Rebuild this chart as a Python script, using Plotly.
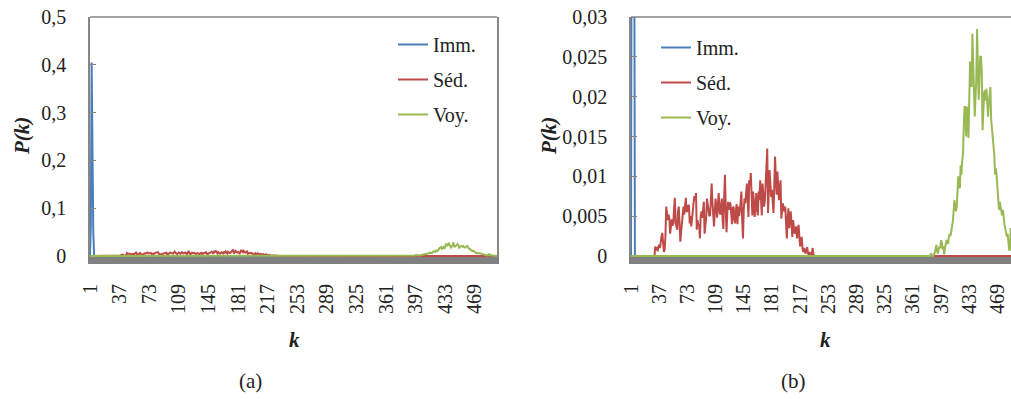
import plotly.graph_objects as go
from plotly.subplots import make_subplots

K_MAX = 496
k = list(range(1, K_MAX + 1))

# P(k) values; every k not listed is 0
imm_start = 1
imm_vals = [0.0, 0.06, 0.405, 0.1, 0.05]

sed_start = 32
sed_vals = [
    0.0012, 0.0008, 0.0011, 0.0006, 0.0012, 0.0014, 0.0010, 0.0020, 0.0025, 0.0029,
    0.0012, 0.0005, 0.0008, 0.0025, 0.0062, 0.0048, 0.0045, 0.0052, 0.0047, 0.0028,
    0.0045, 0.0046, 0.0038, 0.0041, 0.0060, 0.0073, 0.0041, 0.0035, 0.0033, 0.0055,
    0.0062, 0.0040, 0.0018, 0.0030, 0.0045, 0.0055, 0.0062, 0.0052, 0.0060, 0.0073,
    0.0055, 0.0057, 0.0063, 0.0064, 0.0041, 0.0050, 0.0037, 0.0052, 0.0060, 0.0068,
    0.0075, 0.0070, 0.0079, 0.0033, 0.0045, 0.0038, 0.0040, 0.0022, 0.0050, 0.0056,
    0.0048, 0.0060, 0.0068, 0.0028, 0.0035, 0.0048, 0.0072, 0.0065, 0.0057, 0.0050,
    0.0051, 0.0070, 0.0091, 0.0068, 0.0052, 0.0037, 0.0055, 0.0072, 0.0060, 0.0048,
    0.0065, 0.0079, 0.0056, 0.0052, 0.0064, 0.0072, 0.0045, 0.0034, 0.0075, 0.0102,
    0.0060, 0.0030, 0.0055, 0.0068, 0.0058, 0.0067, 0.0066, 0.0050, 0.0040, 0.0060,
    0.0062, 0.0045, 0.0041, 0.0058, 0.0065, 0.0040, 0.0062, 0.0050, 0.0056, 0.0068,
    0.0081, 0.0045, 0.0022, 0.0058, 0.0072, 0.0066, 0.0078, 0.0091, 0.0070, 0.0049,
    0.0095, 0.0088, 0.0104, 0.0070, 0.0051, 0.0081, 0.0065, 0.0049, 0.0065, 0.0079,
    0.0058, 0.0051, 0.0081, 0.0070, 0.0095, 0.0072, 0.0051, 0.0091, 0.0078, 0.0062,
    0.0070, 0.0087, 0.0110, 0.0135, 0.0054, 0.0080, 0.0108, 0.0090, 0.0074, 0.0083,
    0.0070, 0.0054, 0.0090, 0.0125, 0.0095, 0.0077, 0.0106, 0.0088, 0.0070, 0.0085,
    0.0095, 0.0047, 0.0058, 0.0066, 0.0060, 0.0056, 0.0062, 0.0040, 0.0022, 0.0045,
    0.0060, 0.0035, 0.0045, 0.0056, 0.0040, 0.0024, 0.0045, 0.0036, 0.0028, 0.0032,
    0.0037, 0.0022, 0.0030, 0.0039, 0.0025, 0.0012, 0.0018, 0.0024, 0.0010, 0.0005,
    0.0010, 0.0006, 0.0003, 0.0008, 0.0011, 0.0004, 0.0001, 0.0005, 0.0002, 0.0,
    0.0004, 0.0010, 0.0001, 0.0, 0.0,
]

voy_start = 383
voy_vals = [
    0.0, 0.0003, 0.0001, 0.0, 0.0, 0.0002, 0.0004, 0.0009, 0.0014, 0.0006,
    0.0003, 0.0008, 0.0012, 0.0010, 0.0020, 0.0016, 0.0008, 0.0012, 0.0002, 0.0010,
    0.0016, 0.0020, 0.0018, 0.0015, 0.0024, 0.0028, 0.0025, 0.0031, 0.0036, 0.0043,
    0.0056, 0.0070, 0.0062, 0.0056, 0.0062, 0.0085, 0.0100, 0.0090, 0.0085, 0.0114,
    0.0102, 0.0120, 0.0127, 0.0164, 0.0187, 0.0187, 0.0150, 0.0185, 0.0187, 0.0148,
    0.0200, 0.0244, 0.0230, 0.0212, 0.0279, 0.0240, 0.0212, 0.0175, 0.0200, 0.0221,
    0.0285, 0.0200, 0.0196, 0.0221, 0.0250, 0.0250, 0.0230, 0.0158, 0.0196, 0.0205,
    0.0208, 0.0195, 0.0210, 0.0183, 0.0175, 0.0192, 0.0200, 0.0212, 0.0171, 0.0160,
    0.0146, 0.0135, 0.0127, 0.0102, 0.0110, 0.0100, 0.0085, 0.0075, 0.0058, 0.0068,
    0.0062, 0.0053, 0.0051, 0.0058, 0.0045, 0.0039, 0.0035, 0.0031, 0.0024, 0.0028,
    0.0018, 0.0008, 0.0008, 0.0035, 0.0022, 0.0012, 0.0015, 0.0008, 0.0005, 0.0007,
    0.0003, 0.0002, 0.0001, 0.0,
]

x_tickvals = [1, 37, 73, 109, 145, 181, 217, 253, 289, 325, 361, 397, 433, 469]
x_ticktext = [str(v) for v in x_tickvals]
ya_tickvals = [0, 0.1, 0.2, 0.3, 0.4, 0.5]
ya_ticktext = ["0", "0,1", "0,2", "0,3", "0,4", "0,5"]
yb_tickvals = [0, 0.005, 0.01, 0.015, 0.02, 0.025, 0.03]
yb_ticktext = ["0", "0,005", "0,01", "0,015", "0,02", "0,025", "0,03"]

series = [("Imm.", imm_start, imm_vals, "#4A7EBB"),
          ("Séd.", sed_start, sed_vals, "#BE4B48"),
          ("Voy.", voy_start, voy_vals, "#98B954")]


def pad(start, vals):
    return [0.0] * (start - 1) + vals + [0.0] * (K_MAX - start + 1 - len(vals))


FONT = "Liberation Serif"
W, H = 1011, 399

fig = make_subplots(rows=1, cols=2)

for col, leg in [(1, "legend"), (2, "legend2")]:
    for name, start, vals, color in series:
        fig.add_trace(go.Scatter(
            x=k, y=pad(start, vals), mode="lines", name=name,
            line=dict(color=color, width=2),
            legend=leg, legendgroup=f"{leg}-{name}",
        ), row=1, col=col)

# pixel geometry of the two plot areas
top, bottom = 17, 257
ax_l, ax_r = 90, 497
bx_l = 631

yd = [(H - bottom) / H, (H - top) / H]

axis_common = dict(showgrid=False, zeroline=False, automargin=False)
tick_font = dict(family=FONT, size=20, color="#222")
fig.update_xaxes(
    tickvals=x_tickvals, ticktext=x_ticktext, tickangle=-90,
    showline=True, linewidth=7, linecolor="#808080", ticks="",
    ticklabelstandoff=12, tickfont=tick_font, **axis_common,
)
fig.update_yaxes(
    showline=True, linewidth=1.5, linecolor="#868686",
    ticks="inside", ticklen=6, tickcolor="#868686",
    ticklabelstandoff=18, tickfont=tick_font, **axis_common,
)
fig.update_layout(
    xaxis=dict(domain=[ax_l / W, ax_r / W], range=[1, K_MAX]),
    xaxis2=dict(domain=[bx_l / W, 1.0], range=[1, 1 + (W - bx_l) / 0.783]),
    yaxis=dict(domain=yd, range=[-0.5 / (bottom - top - 1), 0.5],
               tickvals=ya_tickvals, ticktext=ya_ticktext, mirror=True),
    yaxis2=dict(domain=yd, range=[-0.03 / (bottom - top - 1), 0.03],
                tickvals=yb_tickvals, ticktext=yb_ticktext),
)

legend_style = dict(font=dict(family=FONT, size=20, color="#222"),
                    bgcolor="rgba(0,0,0,0)", tracegroupgap=6,
                    xanchor="left", yanchor="top", itemwidth=30)
fig.update_layout(
    legend=dict(x=393 / W, y=(H - 25) / H, **legend_style),
    legend2=dict(x=656 / W, y=(H - 28) / H, **legend_style),
)

# top border of both plot areas
for xr, yr in [("x domain", "y domain"), ("x2 domain", "y2 domain")]:
    fig.add_shape(type="line", xref=xr, yref=yr, x0=0, x1=1, y0=1, y1=1,
                  line=dict(color="#868686", width=1.5))

title_font = dict(family=FONT, size=21, color="#222")
annotations = [
    dict(x=22 / W, y=(H - 136) / H, text="<b><i>P(k)</i></b>", textangle=-90),
    dict(x=549 / W, y=(H - 136) / H, text="<b><i>P(k)</i></b>", textangle=-90),
    dict(x=294 / W, y=(H - 340) / H, text="<b><i>k</i></b>"),
    dict(x=825 / W, y=(H - 340) / H, text="<b><i>k</i></b>"),
    dict(x=250 / W, y=(H - 381) / H, text="(a)"),
    dict(x=793 / W, y=(H - 381) / H, text="(b)"),
]
for a in annotations:
    fig.add_annotation(xref="paper", yref="paper", showarrow=False,
                       xanchor="center", yanchor="middle", font=title_font, **a)

fig.update_layout(
    width=W, height=H, margin=dict(l=0, r=0, t=0, b=0),
    paper_bgcolor="white", plot_bgcolor="white",
)

# the page body has a default 8px margin; drop it so the figure fills the window
fig.write_html("out.html",
               config={"displayModeBar": False},
               post_script="document.body.style.margin='0';"
                           "document.body.style.overflow='hidden';")
